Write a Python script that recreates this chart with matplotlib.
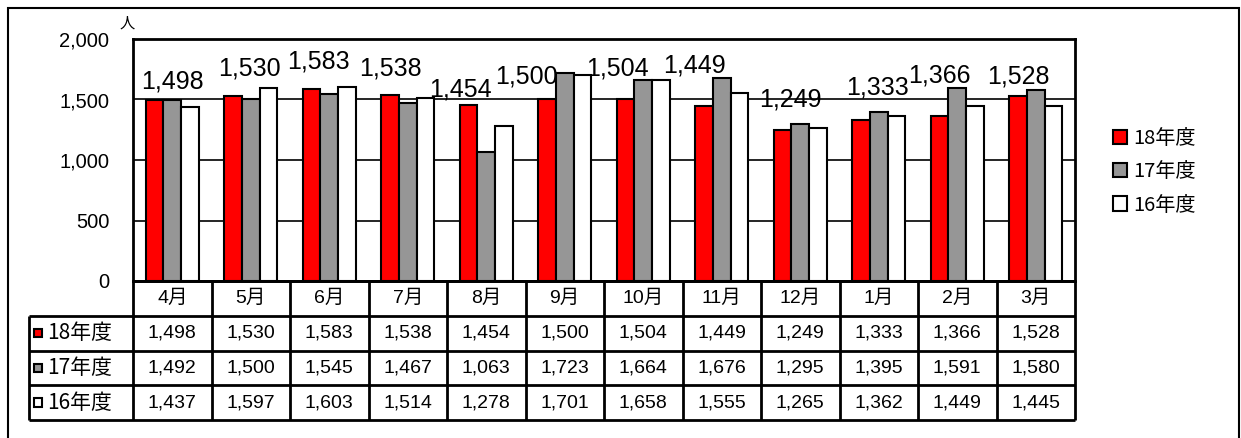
import matplotlib
matplotlib.use("Agg")
import matplotlib.pyplot as plt
from matplotlib.patches import Rectangle, Patch
import numpy as np

plt.rcParams['font.family'] = ['Noto Sans CJK JP', 'DejaVu Sans']

# データ
months = ["4月", "5月", "6月", "7月", "8月", "9月", "10月", "11月", "12月", "1月", "2月", "3月"]
series_names = ["18年度", "17年度", "16年度"]
fy18 = [1498, 1530, 1583, 1538, 1454, 1500, 1504, 1449, 1249, 1333, 1366, 1528]
fy17 = [1492, 1500, 1545, 1467, 1063, 1723, 1664, 1676, 1295, 1395, 1591, 1580]
fy16 = [1437, 1597, 1603, 1514, 1278, 1701, 1658, 1555, 1265, 1362, 1449, 1445]
colors = ["#ff0000", "#969696", "#ffffff"]

# 18年度ラベルの位置ずれ (ピクセル)
label_dx = [18, 16, 7, 0, -8, -21, -8, -10, 8, 16, 0, 0]
label_dy = [11, 20, 21, 19, 9, 16, 24, 33, 23, 25, 33, 13]

W, H = 1241, 438
fig = plt.figure(figsize=(W / 100, H / 100), dpi=100)

# 外枠
fig.add_artist(Rectangle((8 / W, -0.05), (1239 - 8) / W, 1.05 - 8 / H,
                         transform=fig.transFigure, fill=False, lw=1.5, ec="black"))

ax = fig.add_axes([133 / W, 1 - 281 / H, 942 / W, (281 - 39) / H])
x = np.arange(len(months))
bw = 0.223
all_series = [fy18, fy17, fy16]
for i, vals in enumerate(all_series):
    ax.bar(x + (i - 1) * bw, vals, width=bw, color=colors[i], edgecolor="black",
           linewidth=1.5, zorder=3)

ax.set_xlim(-0.5, len(months) - 0.5)
ax.set_ylim(0, 2000)
ax.set_yticks([0, 500, 1000, 1500, 2000])
ax.set_yticklabels([f"{v:,}" for v in [0, 500, 1000, 1500, 2000]], fontsize=14.5,
                   family=['Liberation Sans', 'DejaVu Sans'])
ax.tick_params(axis="y", length=0, pad=17)
ax.set_xticks([])
ax.yaxis.grid(True, color="black", lw=1.2, zorder=0)
for s in ax.spines.values():
    s.set_linewidth(2)
ax.text(-0.006, 1.066, "人", transform=ax.transAxes, fontsize=11, ha="center", va="center")

# 18年度のデータラベル
for i, v in enumerate(fy18):
    ax.annotate(f"{v:,}", (x[i] - bw, v), xytext=(label_dx[i], label_dy[i]),
                textcoords="offset pixels", ha="center", va="baseline", fontsize=18,
                family=['Liberation Sans', 'DejaVu Sans'])

# データテーブル
tax = fig.add_axes([133 / W, 1 - 420 / H, 942 / W, (420 - 281) / H])
tax.set_xlim(-0.5, len(months) - 0.5)
tax.set_ylim(4, 0)
tax.axis("off")
lab_w = 104 / 78.5
left = -0.5 - lab_w
right = len(months) - 0.5
lk = dict(color="black", lw=2, clip_on=False)
tax.hlines([0], -0.5, right, **lk)
tax.hlines([1, 2, 3, 4], left, right, **lk)
tax.vlines(np.arange(len(months) + 1) - 0.5, 0, 4, **lk)
tax.vlines([left], 1, 4, **lk)

sans = ['Liberation Sans', 'Noto Sans CJK JP']
for j, m in enumerate(months):
    tax.text(j, 0.5, m, ha="center", va="center", fontsize=14, family=sans)
for r, vals in enumerate(all_series):
    y = r + 1.5
    for j, v in enumerate(vals):
        tax.text(j, y, f"{v:,}", ha="center", va="center", fontsize=14, family=sans)
    tax.add_patch(Rectangle((left + 0.06, y - 0.125), 0.11, 0.25, facecolor=colors[r],
                            edgecolor="black", lw=1.5, clip_on=False))
    tax.text(left + 0.23, y, series_names[r], ha="left", va="center", fontsize=15)

# 凡例
handles = [Patch(facecolor=colors[i], edgecolor="black", lw=1.5, label=series_names[i])
           for i in range(3)]
fig.legend(handles=handles, loc="center left", bbox_to_anchor=(1103 / W, 1 - 172 / H),
           frameon=False, fontsize=14.5, handlelength=0.7, handleheight=0.7,
           handletextpad=0.3, labelspacing=0.6, borderpad=0)

fig.savefig("out.png", dpi=100)
